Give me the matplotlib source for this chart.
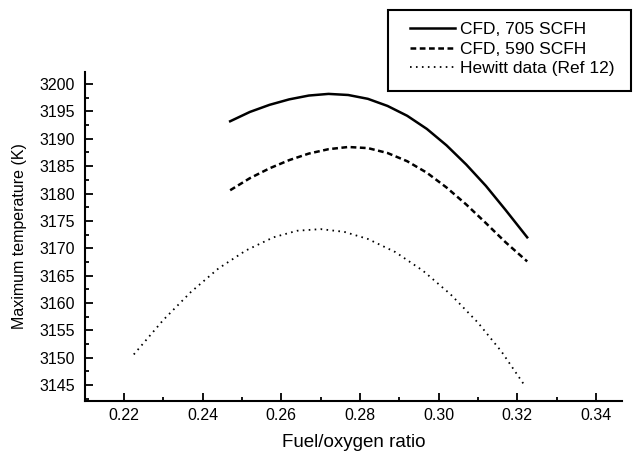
import numpy as np
import matplotlib
matplotlib.use("Agg")
import matplotlib.pyplot as plt
from matplotlib.patches import Rectangle
from matplotlib.ticker import MultipleLocator, FormatStrFormatter

plt.rcParams['font.family'] = ['Liberation Sans', 'DejaVu Sans']

# CFD results, 705 SCFH
ratio_705 = [0.247, 0.252, 0.257, 0.262, 0.267, 0.272, 0.277, 0.282,
             0.287, 0.292, 0.297, 0.302, 0.307, 0.312, 0.317, 0.3225]
temp_705 = [3193.2, 3194.9, 3196.2, 3197.2, 3197.9, 3198.2, 3198.0, 3197.3,
            3196.0, 3194.2, 3191.8, 3188.8, 3185.3, 3181.4, 3177.0, 3172.0]

# CFD results, 590 SCFH
ratio_590 = [0.247, 0.252, 0.257, 0.262, 0.267, 0.272, 0.277, 0.282,
             0.287, 0.292, 0.297, 0.302, 0.307, 0.312, 0.317, 0.3225]
temp_590 = [3180.6, 3182.8, 3184.6, 3186.1, 3187.3, 3188.1, 3188.5, 3188.3,
            3187.4, 3185.9, 3183.8, 3181.1, 3178.0, 3174.6, 3171.1, 3167.6]

# Hewitt data (Ref 12)
ratio_hew = [0.2225, 0.230, 0.237, 0.244, 0.251, 0.258, 0.264, 0.270,
             0.276, 0.282, 0.289, 0.296, 0.303, 0.310, 0.316, 0.3216]
temp_hew = [3150.6, 3156.9, 3162.0, 3166.3, 3169.6, 3172.0, 3173.2, 3173.5,
            3173.0, 3171.7, 3169.3, 3165.9, 3161.6, 3156.4, 3151.1, 3145.2]

W, H = 634, 457
fig = plt.figure(figsize=(W/100, H/100), dpi=100)
ax = fig.add_axes([85/W, 1-401/H, (622-85)/W, (401-72)/H])

ax.plot(ratio_705, temp_705, color='black', lw=1.8, ls='-', label='CFD, 705 SCFH')
ax.plot(ratio_590, temp_590, color='black', lw=1.8, ls=(0, (2.3, 1.4)), label='CFD, 590 SCFH')
ax.plot(ratio_hew, temp_hew, color='black', lw=1.3, ls=(0, (0.9, 2.4)), label='Hewitt data (Ref 12)')

ax.set_xlim(0.2101, 0.3466)
ax.set_ylim(3142.1, 3202.2)

ax.xaxis.set_major_locator(MultipleLocator(0.02))
ax.xaxis.set_minor_locator(MultipleLocator(0.01))
ax.xaxis.set_major_formatter(FormatStrFormatter('%.2f'))
ax.yaxis.set_major_locator(MultipleLocator(5))
ax.yaxis.set_minor_locator(MultipleLocator(2.5))

ax.spines['top'].set_visible(False)
ax.spines['right'].set_visible(False)
for s in ['left', 'bottom']:
    ax.spines[s].set_linewidth(1.5)

ax.tick_params(which='major', direction='in', length=6, width=1.3, labelsize=11.5)
ax.tick_params(axis='y', which='major', pad=7)
ax.tick_params(axis='x', which='major', pad=5)
ax.tick_params(which='minor', direction='in', length=3, width=1.3)

ax.set_xlabel('Fuel/oxygen ratio', fontsize=13.5, labelpad=8)
ax.set_ylabel('Maximum temperature (K)', fontsize=11.5, labelpad=9)

# legend entries without frame, frame drawn as a separate box
leg = fig.legend(loc='upper left', bbox_to_anchor=(410/W, 1-22/H),
                 fontsize=12.5, frameon=False,
                 handlelength=2.6, handletextpad=0.3, borderpad=0,
                 labelspacing=0.25, borderaxespad=0)
fig.patches.append(Rectangle((388/W, 1-91/H), (631-388)/W, (91-10)/H,
                             transform=fig.transFigure, fill=False,
                             edgecolor='black', lw=1.5))

fig.savefig('out.png', dpi=100)
